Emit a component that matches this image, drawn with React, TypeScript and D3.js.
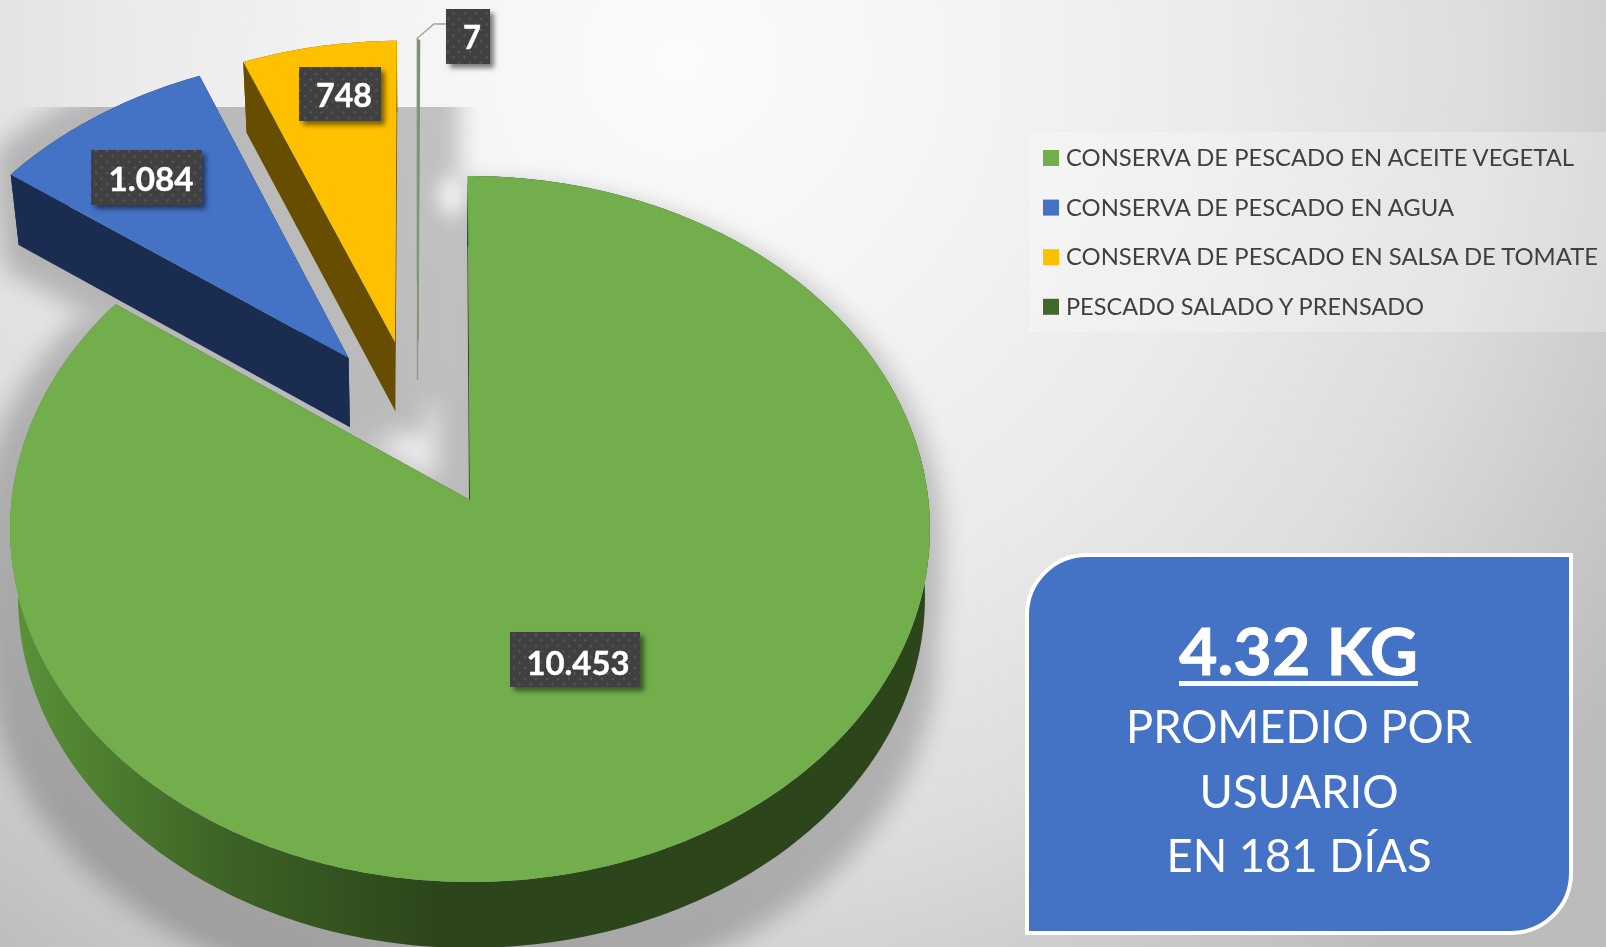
import React from "react";
import * as d3 from "d3";

const categories = [
  "CONSERVA DE PESCADO EN ACEITE VEGETAL",
  "CONSERVA DE PESCADO EN AGUA",
  "CONSERVA DE PESCADO EN SALSA DE TOMATE",
  "PESCADO SALADO Y PRENSADO",
];
const values = [10453, 1084, 748, 7];
const topColors = ["#72AE4C", "#4472C4", "#FFC000", "#43682B"];
const wallColors = ["url(#greenWall)", "#1A2C50", "#664D00", "#9AA496"];
// explosion of every slice, in units of the pie radius (right, away from the viewer)
const explodeX = [0, -0.274, -0.17, -0.1175];
const explodeY = [0, 0.419, 0.468, 0.47];
const wallShare = [1, 1, 1, 0.55];
const legendWidths = [508, 388, 532, 358];
const labelBoxes = [
  { x: 510, y: 632, w: 130, h: 55, tx: 578, ty: 674.5, tw: 103, fs: 33 },
  { x: 91, y: 150, w: 111, h: 55, tx: 151, ty: 191, tw: 85, fs: 33 },
  { x: 299, y: 67, w: 82, h: 54, tx: 344, ty: 107, tw: 56, fs: 33 },
  { x: 446, y: 9, w: 44, h: 55, tx: 472, ty: 49, tw: 18, fs: 33 },
];
const headline = "4.32 KG";
const noteLines = ["PROMEDIO POR", "USUARIO", "EN 181 DÍAS"];

const W = 1606;
const H = 947;
const FONT = "Lato, Carlito, Calibri, sans-serif";

// perspective projection of the pie plane
const CX = 470, CY = 500, A = 350.6, B = 458.4, K = 0.0822;
const project = (X: number, Y: number): [number, number] => {
  const w = 1 + K * Y;
  return [CX + (B * X) / w, CY - (A * Y) / w];
};
const lower = ([x, y]: [number, number], share = 1): [number, number] => {
  const dy = (71.5 - 0.0063 * y) * share;
  const scale = (x < 416 ? 0.0197 : 0.0097) * share;
  return [x + (416 - x) * scale, y + dy];
};

const pieGen = d3
  .pie<number>()
  .sort(null)
  .startAngle((-0.3 * Math.PI) / 180)
  .endAngle(2 * Math.PI - (0.3 * Math.PI) / 180);
const arcs = pieGen(values);
const line = d3.line<[number, number]>();
const thousands = d3.formatLocale({
  decimal: ",",
  thousands: ".",
  grouping: [3],
  currency: ["", ""],
}).format(",");

const slices = arcs.map((a, i) => {
  const n = Math.max(2, Math.ceil((a.endAngle - a.startAngle) * 60));
  const angles = d3.range(n + 1).map((k) => a.startAngle + ((a.endAngle - a.startAngle) * k) / n);
  const ex = explodeX[i], ey = explodeY[i];
  const rim = angles.map((t) => project(Math.sin(t) + ex, Math.cos(t) + ey));
  const apex = project(ex, ey);
  const s = wallShare[i];
  const low = (p: [number, number]) => lower(p, s);
  const top = line([apex, ...rim])! + "Z";
  const arcWall = line([...rim, ...rim.map(low).reverse()])! + "Z";
  const first = rim[0], last = rim[rim.length - 1];
  const startWall = line([apex, first, low(first), low(apex)])! + "Z";
  const endWall = line([apex, last, low(last), low(apex)])! + "Z";
  return { top, arcWall, startWall, endWall };
});

const Solid = ({ s, sw = 0 }: { s: (typeof slices)[number]; sw?: number }) => (
  <g fill="#000" stroke={sw ? "#000" : "none"} strokeWidth={sw}>
    <path d={s.arcWall} />
    <path d={s.startWall} />
    <path d={s.endWall} />
    <path d={s.top} />
  </g>
);

export default function App() {
  return (
    <svg
      width={W}
      height={H}
      viewBox={`0 0 ${W} ${H}`}
      style={{ position: "fixed", left: 0, top: 0, display: "block" }}
    >
      <defs>
        <radialGradient id="bg" gradientUnits="userSpaceOnUse" cx={680} cy={60} r={1130}>
          <stop offset="0" stopColor="#FBFBFB" />
          <stop offset="0.25" stopColor="#F4F4F4" />
          <stop offset="0.5" stopColor="#EAEAEA" />
          <stop offset="0.72" stopColor="#DCDCDC" />
          <stop offset="1" stopColor="#BCBCBC" />
        </radialGradient>
        <linearGradient id="greenWall" gradientUnits="userSpaceOnUse" x1={15} y1={0} x2={440} y2={0}>
          <stop offset="0" stopColor="#5A9238" />
          <stop offset="0.5" stopColor="#3D6225" />
          <stop offset="1" stopColor="#2C451B" />
        </linearGradient>
        <filter id="glowA" x={-100} y={-100} width={W + 200} height={H + 300} filterUnits="userSpaceOnUse">
          <feMorphology operator="dilate" radius={22} />
          <feGaussianBlur stdDeviation={12} />
        </filter>
        <filter id="glowB" x={-100} y={-100} width={W + 200} height={H + 300} filterUnits="userSpaceOnUse">
          <feMorphology operator="dilate" radius={24} />
          <feGaussianBlur stdDeviation={12} />
        </filter>
        <filter id="soft" x="-100%" y="-100%" width="300%" height="300%">
          <feGaussianBlur stdDeviation={9} />
        </filter>
        <filter id="labelShadow" x="-30%" y="-30%" width="170%" height="170%">
          <feDropShadow dx={4} dy={4} stdDeviation={2.5} floodColor="#000" floodOpacity={0.5} />
        </filter>
        <clipPath id="plotClip">
          <rect x={0} y={107} width={W} height={H - 107} />
        </clipPath>
        <pattern id="dots" width={11} height={11} patternUnits="userSpaceOnUse">
          <rect width={11} height={11} fill="#3F3F3F" />
          <circle cx={2.5} cy={2.5} r={1.4} fill="#525252" />
          <circle cx={8} cy={8} r={1.4} fill="#525252" />
        </pattern>
      </defs>

      <rect width={W} height={H} fill="url(#bg)" />

      {/* shadow of the pie, cut by the top of the plot area */}
      <g clipPath="url(#plotClip)">
        <g opacity={0.21}>
          <g filter="url(#glowA)" transform="translate(-10,30)">
            <Solid s={slices[0]} />
          </g>
          <g filter="url(#glowB)" transform="translate(10,0)">
            <Solid s={slices[1]} />
            <Solid s={slices[2]} />
          </g>
          <g filter="url(#glowB)" transform="translate(14,0)">
            <Solid s={slices[3]} sw={3} />
          </g>
        </g>
        <ellipse cx={452} cy={196} rx={14} ry={20} fill="#F7F7F7" opacity={0.9} filter="url(#soft)" />
      </g>

      {/* pie slices */}
      {slices.map((s, i) => (
        <g key={categories[i]}>
          <path d={s.arcWall} fill={wallColors[i]} />
          <path d={s.startWall} fill={i === 0 ? "#2C451B" : wallColors[i]} />
          <path d={s.endWall} fill={i === 0 ? "#2C451B" : wallColors[i]} />
          <path d={s.top} fill={topColors[i]} stroke={i === 3 ? "#7E9A72" : "none"} strokeWidth={i === 3 ? 1 : 0} />
        </g>
      ))}

      {/* leader line for the smallest slice */}
      <path d="M417.5,380V38L434,24H446" fill="none" stroke="#8C8C8C" strokeWidth={1.4} opacity={0.8} />
      <path d="M417.5,283V38" fill="none" stroke="#7E9A72" strokeWidth={1.4} />

      {/* data labels */}
      {labelBoxes.map((b, i) => (
        <g key={i}>
          <rect x={b.x} y={b.y} width={b.w} height={b.h} fill="url(#dots)" filter="url(#labelShadow)" />
          <text
            x={b.tx}
            y={b.ty}
            textAnchor="middle"
            fontFamily={FONT}
            fontWeight={700}
            fontSize={b.fs}
            fill="#FFFFFF"
            stroke="#FFFFFF"
            strokeWidth={0.4}
            textLength={b.tw}
            lengthAdjust="spacingAndGlyphs"
          >
            {thousands(values[i])}
          </text>
        </g>
      ))}

      {/* legend */}
      <rect x={1029} y={132} width={W - 1029} height={200} fill="#FFFFFF" opacity={0.25} />
      {categories.map((c, i) => (
        <g key={c}>
          <rect x={1043} y={150 + i * 49.6} width={16} height={16} fill={topColors[i]} />
          <text
            x={1066}
            y={166 + i * 49.6}
            fontFamily={FONT}
            fontSize={24}
            fill="#404040"
            textLength={legendWidths[i]}
            lengthAdjust="spacingAndGlyphs"
          >
            {c}
          </text>
        </g>
      ))}

      {/* note box */}
      <path
        d="M1087,555H1571V873A60,60 0 0 1 1511,933H1027V615A60,60 0 0 1 1087,555Z"
        fill="#4472C4"
        stroke="#FFFFFF"
        strokeWidth={4}
      />
      <text
        x={1298.5}
        y={675}
        textAnchor="middle"
        fontFamily={FONT}
        fontWeight={700}
        fontSize={65}
        fill="#FFFFFF"
        stroke="#FFFFFF"
        strokeWidth={0.8}
        textLength={239}
        lengthAdjust="spacingAndGlyphs"
      >
        {headline}
      </text>
      <rect x={1179} y={681} width={239} height={5} fill="#FFFFFF" />
      {noteLines.map((t, i) => (
        <text
          key={t}
          x={1299}
          y={743 + i * 64.5}
          textAnchor="middle"
          fontFamily={FONT}
          fontSize={46}
          fill="#FFFFFF"
          textLength={[346, 199, 265][i]}
          lengthAdjust="spacingAndGlyphs"
        >
          {t}
        </text>
      ))}
    </svg>
  );
}
